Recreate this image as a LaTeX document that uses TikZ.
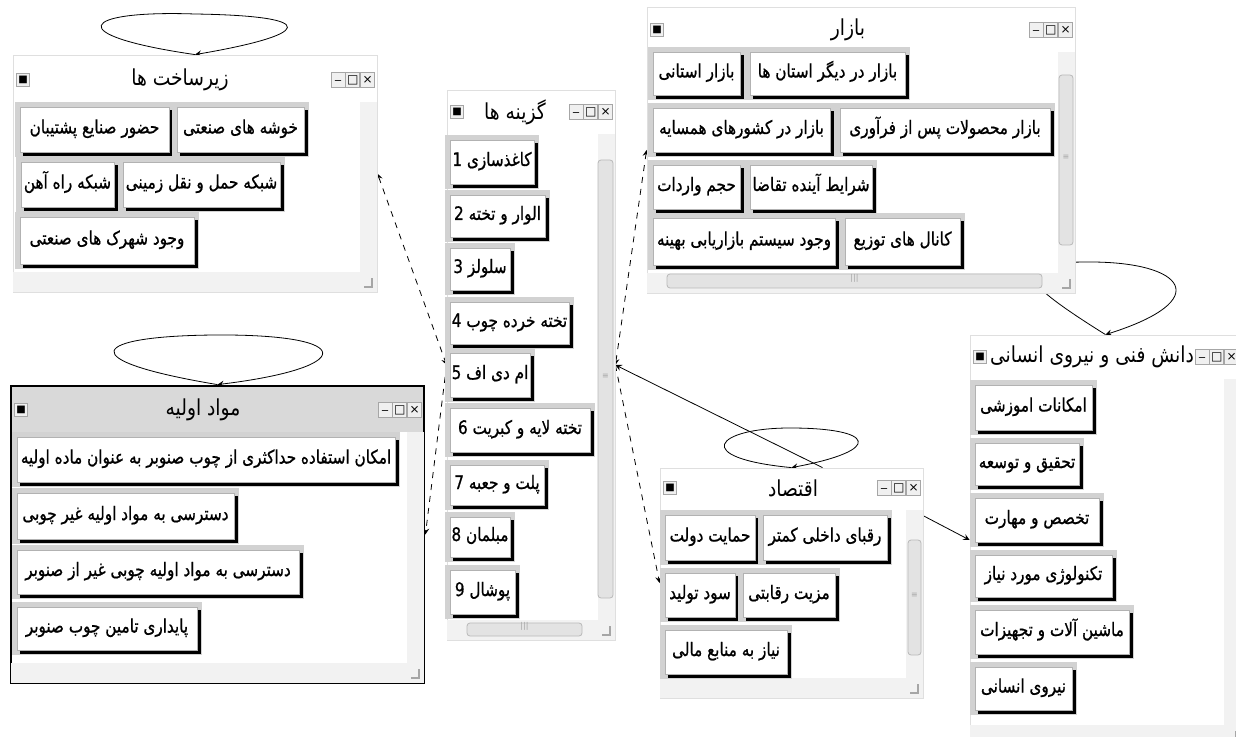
\documentclass[tikz,border=0pt]{standalone}
\usepackage{fontspec}
\usetikzlibrary{fit}
\TeXXeTstate=1
\newfontfamily\fa[Script=Arabic,FakeStretch=0.85]{DejaVu Sans}
\newfontfamily\fab[Script=Arabic,FakeStretch=0.82,FakeBold=0.8]{DejaVu Sans}
\newfontfamily\dvs{DejaVu Sans}
\pgfdeclarelayer{edges}
\pgfsetlayers{edges,main}
\tikzstyle{win}=[rectangle,draw=gray!25,fill=white,inner sep=0pt]
\tikzstyle{activewin}=[rectangle,draw=black,line width=1.4pt,fill=white,inner sep=0pt,
  path picture={\fill[gray!30] (path picture bounding box.north west) rectangle ([yshift=-23pt]path picture bounding box.north east);}]
\tikzstyle{wtitle}=[inner sep=0pt,font=\fa\fontsize{11}{12}\selectfont,execute at begin node=\beginR,execute at end node=\endR]
\tikzstyle{btntext}=[inner sep=0pt,text height=6pt,text depth=2pt,
  font=\fab\fontsize{9.3}{10}\selectfont,execute at begin node=\beginR,execute at end node=\endR]
\tikzset{btn/.style={rectangle,fill=white,draw=gray!60,line width=0.3pt,inner sep=0pt,
  preaction={draw=gray!35,line width=5pt},
  preaction={fill=black,draw=black,transform canvas={shift={(1.5pt,-1.5pt)}}},
  label={[btntext]center:#1}}}
\tikzstyle{icon}=[rectangle,draw=gray!70,fill=gray!12,minimum size=6.5pt,inner sep=0pt,font=\dvs\fontsize{5}{5}\selectfont]
\tikzstyle{ctrl}=[rectangle,draw=gray!70,fill=gray!12,minimum width=7pt,minimum height=7.5pt,inner sep=0pt,font=\dvs\fontsize{6}{6}\selectfont]
\tikzstyle{sbar}=[fill=gray!10]
\tikzstyle{thumb}=[rectangle,rounded corners=1.5pt,draw=gray!55,fill=gray!22,inner sep=0pt,font=\dvs\fontsize{4}{4}\selectfont,text=gray!70]
% frame style, name, x1, y1, x2, y2, title x, title y, title
\newcommand{\Window}[9]{%
  \node[#1,fit={(#3,#4) (#5,#6)}] (#2) {};
  \fill[sbar] (#5-17,#8+22) rectangle (#5,#6-20);
  \fill[sbar] (#3,#6-20) rectangle (#5,#6);
  \draw[gray!70,line width=0.8pt] (#5-13,#6-5) -- (#5-5,#6-5) -- (#5-5,#6-14);
  \node[wtitle] (#2-t) at (#7,#8) {#9};
  \node[icon] (#2-i) at (#3+10,#8) {■};
  \node[ctrl,anchor=east] (#2-x) at (#5-2,#8) {×};
  \node[ctrl,anchor=east] (#2-m) at (#2-x.west) {□};
  \node[ctrl,anchor=east] (#2-n) at (#2-m.west) {\_};
}

\begin{document}
\begin{tikzpicture}[x=0.5pt,y=-0.5pt,>=stealth]
\useasboundingbox (0,0) rectangle (1236,737);
\Window{win}{zir}{13}{55}{377}{292}{180}{80}{زیرساخت ها}
\Window{activewin}{mavad}{11}{386}{424}{683}{203}{410}{مواد اولیه}
\Window{win}{gozine}{447}{90}{615}{640}{515}{112}{گزینه ها}
\Window{win}{bazar}{647}{7}{1075}{293}{848}{30}{بازار}
\Window{win}{eqtesad}{660}{468}{923}{698}{793}{488}{اقتصاد}
\Window{win}{danesh}{970}{335}{1241}{745}{1092}{357}{دانش فنی و نیروی انسانی}
% scroll thumbs
\node[thumb,fit={(598,160) (613,598)}] (gozine-vt) {≡};
\node[thumb,fit={(467,623) (582,636)}] (gozine-ht) {|||};
\node[thumb,fit={(1059,75) (1073,245)}] (bazar-vt) {≡};
\node[thumb,fit={(667,274) (1042,288)}] (bazar-ht) {|||};
\node[thumb,fit={(908,540) (921,655)}] (eqtesad-vt) {≡};
% zirsakht
\node[btn={حضور صنایع پشتیبان},fit={(20,107) (169,152)}] (zir1) {};
\node[btn={خوشه های صنعتی},fit={(177,107) (304,152)}] (zir2) {};
\node[btn={شبکه راه آهن},fit={(21,162) (114,207)}] (zir3) {};
\node[btn={شبکه حمل و نقل زمینی},fit={(123,162) (280,207)}] (zir4) {};
\node[btn={وجود شهرک های صنعتی},fit={(20,217) (194,264)}] (zir5) {};
% mavad
\node[btn={امکان استفاده حداکثری از چوب صنوبر به عنوان ماده اولیه},fit={(17,437) (395,482)}] (mav1) {};
\node[btn={دسترسی به مواد اولیه غیر چوبی},fit={(17,493) (234,539)}] (mav2) {};
\node[btn={دسترسی به مواد اولیه چوبی غیر از صنوبر},fit={(17,550) (299,594)}] (mav3) {};
\node[btn={پایداری تامین چوب صنوبر},fit={(17,607) (197,650)}] (mav4) {};
% gozine
\node[btn={کاغذسازی 1},fit={(450,140) (534,184)}] (goz1) {};
\node[btn={الوار و تخته 2},fit={(450,195) (545,237)}] (goz2) {};
\node[btn={سلولز 3},fit={(450,248) (510,290)}] (goz3) {};
\node[btn={تخته خرده چوب 4},fit={(450,302) (569,344)}] (goz4) {};
\node[btn={ام دی اف 5},fit={(450,353) (530,397)}] (goz5) {};
\node[btn={تخته لایه و کبریت 6},fit={(450,408) (590,452)}] (goz6) {};
\node[btn={پلت و جعبه 7},fit={(450,465) (544,505)}] (goz7) {};
\node[btn={مبلمان 8},fit={(450,517) (510,557)}] (goz8) {};
\node[btn={پوشال 9},fit={(450,570) (515,614)}] (goz9) {};
% bazar
\node[btn={بازار استانی},fit={(653,52) (740,95)}] (baz1) {};
\node[btn={بازار در دیگر استان ها},fit={(750,52) (905,95)}] (baz2) {};
\node[btn={بازار در کشورهای همسایه},fit={(653,108) (830,152)}] (baz3) {};
\node[btn={بازار محصولات پس از فرآوری},fit={(840,108) (1050,152)}] (baz4) {};
\node[btn={حجم واردات},fit={(653,165) (740,209)}] (baz5) {};
\node[btn={شرایط آینده تقاضا},fit={(750,165) (872,209)}] (baz6) {};
\node[btn={وجود سیستم بازاریابی بهینه},fit={(653,218) (835,265)}] (baz7) {};
\node[btn={کانال های توزیع},fit={(845,218) (960,265)}] (baz8) {};
% eqtesad
\node[btn={حمایت دولت},fit={(665,515) (755,560)}] (eqt1) {};
\node[btn={رقبای داخلی کمتر},fit={(763,515) (887,560)}] (eqt2) {};
\node[btn={سود تولید},fit={(665,573) (735,617)}] (eqt3) {};
\node[btn={مزیت رقابتی},fit={(743,573) (835,617)}] (eqt4) {};
\node[btn={نیاز به منابع مالی},fit={(665,630) (787,674)}] (eqt5) {};
% danesh
\node[btn={امکانات اموزشی},fit={(975,385) (1092,430)}] (dan1) {};
\node[btn={تحقیق و توسعه},fit={(975,443) (1079,485)}] (dan2) {};
\node[btn={تخصص و مهارت},fit={(975,498) (1099,542)}] (dan3) {};
\node[btn={تکنولوژی مورد نیاز},fit={(975,555) (1112,597)}] (dan4) {};
\node[btn={ماشین آلات و تجهیزات},fit={(975,610) (1129,654)}] (dan5) {};
\node[btn={نیروی انسانی},fit={(975,667) (1072,710)}] (dan6) {};
\begin{pgfonlayer}{edges}
  \fill[white] (0,0) rectangle (1236,737);
  % self loops
  \draw[->] (zir.north) .. controls (60,35) and (80,10) .. (195,14) .. controls (325,16) and (310,35) .. (zir.north);
  \draw[->] (mavad.north) .. controls (70,360) and (90,336) .. (215,335) .. controls (360,334) and (355,368) .. (mavad.north);
  \draw[->] (eqtesad.north) .. controls (690,458) and (715,428) .. (790,428) .. controls (875,428) and (885,450) .. (eqtesad.north);
  \draw[->] (danesh.north) .. controls (1010,275) and (1010,262) .. (1090,262) .. controls (1185,262) and (1215,300) .. (danesh.north);
  % links
  \draw[dashed,<->] (zir.east) -- (gozine.west);
  \draw[dashed,->] (gozine.west) -- (mavad.east);
  \draw[dashed,<->] (gozine.east) -- (bazar.west);
  \draw[dashed,->] (gozine.east) -- (eqtesad.west);
  \draw[->] ([xshift=15.5pt]eqtesad.north) -- (gozine.east);
  \draw[->] (eqtesad.27) -- (danesh.west);
\end{pgfonlayer}
\end{tikzpicture}
\end{document}
